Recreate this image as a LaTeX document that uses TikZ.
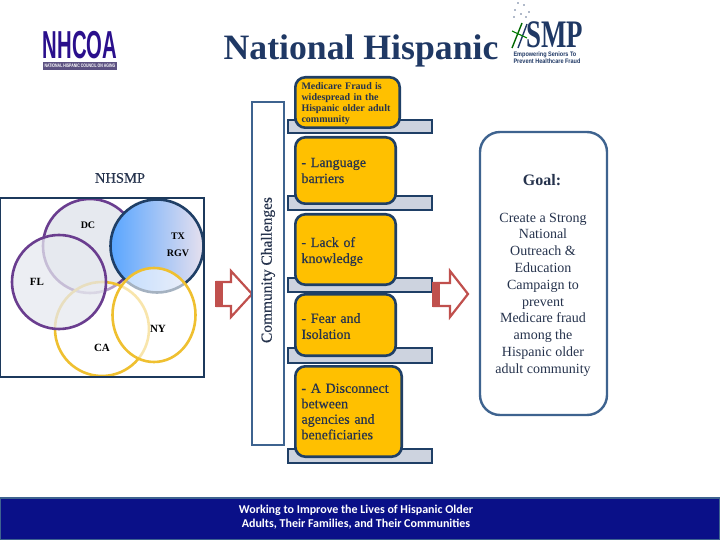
\documentclass[tikz,border=0pt]{standalone}
\usepackage{fontspec}
\setmainfont{Liberation Serif}
\newfontfamily\footfont{Carlito}
\newfontfamily\logofont[FakeStretch=0.7]{Liberation Sans}
\newfontfamily\nhcoafont[FakeStretch=0.52]{Liberation Sans}
\newfontfamily\smpsubfont[FakeStretch=0.85]{Liberation Sans}
\newfontfamily\smpfont[FakeStretch=0.69]{Liberation Serif}
\newfontfamily\heavyfont[FakeBold=0.4]{Liberation Serif}
\usetikzlibrary{positioning,calc}
\definecolor{navy}{HTML}{1F3864}
\definecolor{darktext}{HTML}{26334D}
\definecolor{frameblue}{HTML}{3E638F}
\definecolor{boxedge}{HTML}{1F3F66}
\definecolor{boxfill}{HTML}{FFC000}
\definecolor{barfill}{HTML}{CDD3DF}
\definecolor{arrowred}{HTML}{C0504D}
\definecolor{ringpurple}{HTML}{6A3D8F}
\definecolor{ringgold}{HTML}{EFC030}
\definecolor{footblue}{HTML}{0A1088}
\definecolor{logoblue}{HTML}{2A0F8C}
\tikzset{
  orangebox/.style={draw=boxedge,line width=2.6pt,fill=boxfill,rounded corners=10pt,
    align=left,anchor=north west,inner xsep=5.5pt,inner ysep=0pt,text=darktext},
  listbar/.style={draw=boxedge,line width=2.4pt,fill=barfill},
  placelabel/.style={font=\fontsize{10}{12}\selectfont\bfseries,text=black},
  blockarrow/.style={draw=arrowred,line width=2.2pt,fill=white}
}
\begin{document}
\begin{tikzpicture}[x=1pt,y=-1pt]
  \useasboundingbox (0,0) rectangle (720,540);
  % title
  \node[text=navy,font=\fontsize{35.7}{38}\selectfont\bfseries] (title) at (361,51) {National Hispanic};
  % left logo
  \node[text=logoblue,font=\nhcoafont\bfseries\fontsize{39}{39}\selectfont,inner sep=0pt] (nhcoa) at (80,45) {NHCOA};
  \fill[black!45!logoblue!70!white] (43,62) rectangle (117,70);
  \node[text=white,font=\logofont\bfseries\fontsize{5}{5}\selectfont,inner sep=0pt] (nhcoasub) at (80,66) {NATIONAL HISPANIC COUNCIL ON AGING};
  % right logo
  \node[text=navy,font=\smpfont\bfseries\fontsize{39}{39}\selectfont,inner sep=0pt] (smp) at (555,35) {SMP};
  \node[text=navy,font=\smpsubfont\bfseries\fontsize{6.5}{6.5}\selectfont,align=left,inner sep=0pt] (smpsub) at (547,57.5) {Empowering Seniors To\\Prevent Healthcare Fraud};
  \draw[green!40!black,line width=1.4pt] (512,48) -- (522,23);
  \draw[navy,line width=1.4pt] (518,48) -- (527,24);
  \draw[green!50!black,line width=1.1pt] (512,31) -- (527,38);
  \foreach \dotx/\doty in {518/3,524/5,515/10,529/12,521/14,514/17,526/17}{
    \fill[navy!70] (\dotx,\doty) circle (0.8);
  }
  % venn part
  \node[text=darktext,font=\heavyfont\fontsize{14.5}{16}\selectfont] (nhsmp) at (120,178) {NHSMP};
  \fill[white] (0,198) rectangle (204,377);
  \draw[fill=barfill!50,draw=ringpurple,line width=2.6pt] (90,246) circle (47);
  \shade[left color={rgb,255:red,88;green,165;blue,255},middle color={rgb,255:red,135;green,188;blue,248},right color={rgb,255:red,230;green,224;blue,238}] (157,246) circle (46.5);
  \draw[boxedge,line width=2.6pt] (157,246) circle (46.5);
  \draw[ringgold,line width=2.6pt,fill=white,fill opacity=.5] (102,329) circle (47);
  \draw[draw=ringpurple,line width=2.6pt,fill=barfill!50,fill opacity=.75] (59,282) circle (47);
  \draw[draw=ringgold,line width=2.6pt,fill=white,fill opacity=.6] (154,315) ellipse (41.5 and 47);
  \draw[boxedge!90!black,line width=1.8pt] (0,198) rectangle (204,377);
  \node[placelabel] (dc) at (88,225) {DC};
  \node[placelabel] (tx) at (178,236) {TX};
  \node[placelabel] (rgv) at (178,253) {RGV};
  \node[placelabel,font=\fontsize{11}{13}\selectfont\bfseries] (fl) at (37,282) {FL};
  \node[placelabel,font=\fontsize{11}{13}\selectfont\bfseries] (ny) at (158,329) {NY};
  \node[placelabel,font=\fontsize{11}{13}\selectfont\bfseries] (ca) at (102,348) {CA};
  % block arrows
  \draw[blockarrow] (217,282) -- (231,282) -- (231,271) -- (252,294) -- (231,317) -- (231,306) -- (217,306) -- cycle;
  \fill[arrowred] (215,281) rectangle (223,307);
  % challenges column
  \draw[frameblue,line width=2.4pt,fill=white] (252,102) rectangle (284,445);
  \node[rotate=90,text=darktext,font=\heavyfont\fontsize{15.4}{17}\selectfont] (challenges) at (268,270) {Community Challenges};
  % list bars
  \draw[listbar] (288,120) rectangle (432,133);
  \draw[listbar] (288,196) rectangle (432,210);
  \draw[listbar] (288,278) rectangle (432,292);
  \draw[listbar] (288,348) rectangle (432,363);
  \draw[listbar] (288,449) rectangle (432,463);
  \draw[blockarrow] (434,283) -- (450,283) -- (450,271) -- (468,294) -- (450,317) -- (450,306) -- (434,306) -- cycle;
  \fill[arrowred] (432,282) rectangle (440,307);
  % list boxes
  \node[orangebox,minimum width=104.4pt,minimum height=50.4pt,text width=92pt,font=\fontsize{10}{11}\selectfont\bfseries] (fraud) at (294,76)
    {\rule{0pt}{10pt}Medicare Fraud is\\widespread in the\\Hispanic older adult\\community};
  \node[orangebox,minimum width=100.4pt,minimum height=66.4pt,text width=88pt,font=\heavyfont\fontsize{14}{16}\selectfont] (language) at (294,136)
    {- Language\\barriers};
  \node[orangebox,minimum width=100.4pt,minimum height=70.4pt,text width=88pt,font=\heavyfont\fontsize{14}{16}\selectfont] (knowledge) at (294,213)
    {\rule{0pt}{14pt}- Lack of\\knowledge};
  \node[orangebox,minimum width=100.4pt,minimum height=61.4pt,text width=88pt,font=\heavyfont\fontsize{14}{16}\selectfont] (isolation) at (294,293)
    {\rule{0pt}{12pt}- Fear and\\Isolation};
  \node[orangebox,minimum width=106.4pt,minimum height=90.4pt,text width=94pt,font=\heavyfont\fontsize{14}{15.5}\selectfont] (disconnect) at (294,365)
    {- A Disconnect\\between\\agencies and\\beneficiaries};
  % goal box
  \draw[frameblue,line width=2.4pt,fill=white,rounded corners=20pt] (480,132) rectangle (607,415);
  \node[text=darktext,font=\fontsize{16}{18}\selectfont\bfseries] (goal) at (542,180) {Goal:};
  \node[align=center,font=\fontsize{14}{16.8}\selectfont,text=darktext] (goaltext) at (543,294.5)
    {Create a Strong\\National\\Outreach \&\\Education\\Campaign to\\prevent\\Medicare fraud\\among the\\Hispanic older\\adult community};
  % footer
  \draw[frameblue,line width=1.8pt,fill=footblue] (0,498) rectangle (720,540);
  \node[align=center,text=white,font=\footfont\bfseries\fontsize{12}{14}\selectfont] (foot) at (356,517)
    {Working to Improve the Lives of Hispanic Older\\Adults, Their Families, and Their Communities};
\end{tikzpicture}
\end{document}
